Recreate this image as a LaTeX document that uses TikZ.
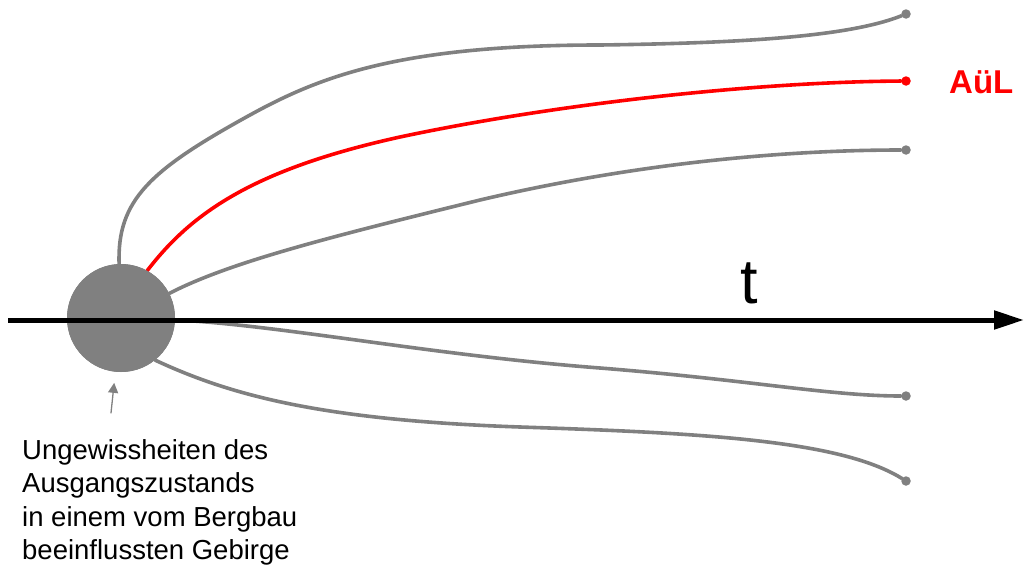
\documentclass[tikz,border=0pt]{standalone}
\usepackage{fontspec}
\setmainfont{Liberation Sans}
\usetikzlibrary{arrows.meta}

\begin{document}
\begin{tikzpicture}[x=1pt, y=-1pt, line cap=round, line join=round,
    path/.style={draw=gray, line width=3.6pt},
    pathred/.style={draw=red, line width=3.6pt},
    enddot/.style={circle, fill=gray, inner sep=0pt, minimum size=9.5pt},
    pointer/.style={draw=gray, line width=1.3pt, -{Triangle[length=10pt,width=10pt]}}]

  %% ==== Ausgangszustand ====
  \node[circle, fill=gray, inner sep=0pt, minimum size=108pt] (src) at (121,318) {};

  %% ==== Endpunkte ====
  \node[enddot] (e1) at (906,14) {};
  \node[enddot, fill=red] (e2) at (906,81) {};
  \node[enddot] (e3) at (906,150) {};
  \node[enddot] (e4) at (906,396) {};
  \node[enddot] (e5) at (906,481) {};

  %% ==== Entwicklungspfade ====
  \draw[path] (src.92) .. controls (117,200) and (150,170) .. (250,115)
                       .. controls (320,76.5) and (400,45) .. (600,45)
                       .. controls (750,43) and (850,36) .. (e1);
  \draw[pathred] (src.61) .. controls (190,215) and (250,170) .. (400,137)
                          .. controls (550,105) and (750,82) .. (e2);
  \draw[path] (src.27) .. controls (230,262) and (330,237) .. (480,200)
                       .. controls (650,160) and (800,150) .. (e3);
  \draw[path] (src.-2) .. controls (280,325) and (430,355) .. (600,368)
                       .. controls (750,380) and (830,396) .. (e4);
  \draw[path] (src.-51) .. controls (230,395) and (320,420) .. (520,427)
                        .. controls (700,433) and (840,440) .. (e5);
  % Kreis nochmals ueber die Pfadanfaenge
  \fill[gray] (src.center) circle (54);

  %% ==== Zeitachse ====
  \coordinate (t0) at (8,320);
  \coordinate (t1) at (1024,320);
  \draw[line width=5pt, line cap=butt, -{Triangle[length=30pt,width=18pt]}] (t0) -- (t1);
  \node[anchor=base, inner sep=0pt, font=\fontsize{63}{70}\selectfont] (tlab) at (749,303) {t};

  %% ==== Beschriftungen ====
  \node[anchor=west, inner sep=0pt, text=red, font=\fontsize{33}{38}\bfseries\selectfont] (aul) at (949,82) {AüL};
  \node[anchor=north west, inner sep=0pt, align=left, font=\fontsize{27.5}{33.5}\selectfont] (note) at (22,439)
    {Ungewissheiten des\\Ausgangszustands\\in einem vom Bergbau\\beeinflussten Gebirge};
  \coordinate (tail) at (111,413);
  \draw[pointer, shorten >=11pt] (tail) -- (src);

  % Leinwand fixieren
  \pgfresetboundingbox
  \path[use as bounding box] (0,0) rectangle (1024,565);
\end{tikzpicture}
\end{document}
